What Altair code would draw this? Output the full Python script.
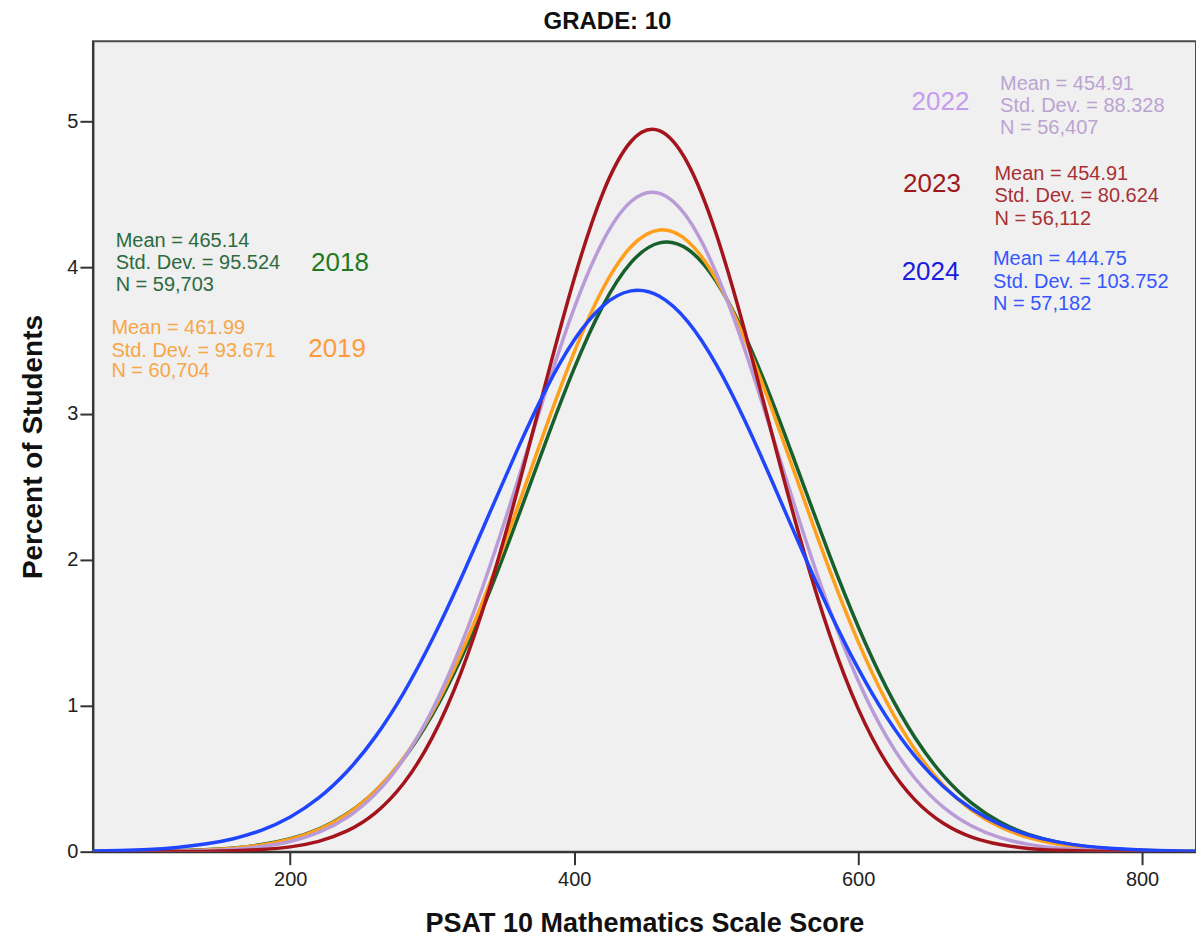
import altair as alt
import pandas as pd

# Scale score grid and percent of students
score = [60, 80, 100, 120, 140, 160, 180, 200, 220, 240, 260, 280, 300, 320, 340,
         360, 380, 400, 420, 440, 460, 480, 500, 520, 540, 560, 580, 600, 620, 640,
         660, 680, 700, 720, 740, 760, 780, 800, 820, 840]

pct_2018 = [0.001, 0.001, 0.003, 0.006, 0.013, 0.025, 0.049, 0.089, 0.155, 0.260,
            0.416, 0.638, 0.937, 1.317, 1.771, 2.279, 2.807, 3.310, 3.735, 4.034,
            4.170, 4.126, 3.907, 3.541, 3.072, 2.551, 2.027, 1.542, 1.122, 0.782,
            0.521, 0.333, 0.203, 0.119, 0.067, 0.036, 0.018, 0.009, 0.004, 0.002]
pct_2019 = [0.000, 0.001, 0.002, 0.005, 0.012, 0.024, 0.046, 0.085, 0.151, 0.257,
            0.416, 0.645, 0.955, 1.350, 1.824, 2.355, 2.904, 3.421, 3.852, 4.143,
            4.258, 4.181, 3.922, 3.516, 3.011, 2.464, 1.926, 1.439, 1.027, 0.700,
            0.456, 0.284, 0.169, 0.096, 0.052, 0.027, 0.013, 0.006, 0.003, 0.001]
pct_2022 = [0.000, 0.001, 0.001, 0.003, 0.008, 0.017, 0.036, 0.070, 0.132, 0.234,
            0.396, 0.636, 0.970, 1.407, 1.938, 2.536, 3.152, 3.723, 4.177, 4.453,
            4.509, 4.338, 3.965, 3.443, 2.840, 2.226, 1.657, 1.172, 0.788, 0.503,
            0.305, 0.176, 0.096, 0.050, 0.025, 0.012, 0.005, 0.002, 0.001, 0.000]
pct_2023 = [0.000, 0.000, 0.000, 0.001, 0.002, 0.006, 0.015, 0.033, 0.071, 0.142,
            0.266, 0.470, 0.781, 1.220, 1.792, 2.475, 3.214, 3.924, 4.506, 4.864,
            4.938, 4.714, 4.232, 3.572, 2.835, 2.116, 1.485, 0.980, 0.608, 0.355,
            0.195, 0.100, 0.049, 0.022, 0.010, 0.004, 0.001, 0.001, 0.000, 0.000]
pct_2024 = [0.004, 0.008, 0.015, 0.029, 0.052, 0.089, 0.148, 0.238, 0.368, 0.549,
            0.788, 1.090, 1.453, 1.866, 2.310, 2.754, 3.165, 3.504, 3.737, 3.841,
            3.804, 3.630, 3.337, 2.956, 2.523, 2.075, 1.644, 1.255, 0.923, 0.654,
            0.447, 0.294, 0.187, 0.114, 0.067, 0.038, 0.021, 0.011, 0.006, 0.003]

years = ["2018", "2019", "2022", "2023", "2024"]
series = [pct_2018, pct_2019, pct_2022, pct_2023, pct_2024]
line_colors = ["#17602c", "#ff9f1a", "#b99bd8", "#a3141c", "#1f45ff"]
text_colors = ["#2c6a3f", "#f7a648", "#bca3d3", "#a93034", "#3557ff"]
year_colors = ["#1f7a1f", "#ff9a3c", "#c59cf0", "#a0181c", "#1a1ae0"]

stat_lines = [
    ["Mean = 465.14", "Std. Dev. = 95.524", "N = 59,703"],
    ["Mean = 461.99", "Std. Dev. = 93.671", "N = 60,704"],
    ["Mean = 454.91", "Std. Dev. = 88.328", "N = 56,407"],
    ["Mean = 454.91", "Std. Dev. = 80.624", "N = 56,112"],
    ["Mean = 444.75", "Std. Dev. = 103.752", "N = 57,182"],
]
# annotation anchors in data units (score, percent)
stat_x = [77, 74, 700, 696, 695]
stat_y = [[4.18, 4.03, 3.88], [3.59, 3.43, 3.29], [5.26, 5.11, 4.96],
          [4.64, 4.49, 4.33], [4.06, 3.90, 3.75]]
year_x = [235, 233, 658, 652, 651]
year_y = [4.03, 3.445, 5.135, 4.574, 3.972]

rows = []
for yr, vals in zip(years, series):
    for s, v in zip(score, vals):
        rows.append({"year": yr, "score": s, "pct": v})
curves = pd.DataFrame(rows)

stat_rows = []
for i, yr in enumerate(years):
    for j, t in enumerate(stat_lines[i]):
        stat_rows.append({"x": stat_x[i], "y": stat_y[i][j], "text": t, "color": text_colors[i]})
stats = pd.DataFrame(stat_rows)
labels = pd.DataFrame({"x": year_x, "y": year_y, "text": years, "color": year_colors})

xscale = alt.Scale(domain=[61, 838], nice=False, zero=False)
yscale = alt.Scale(domain=[0, 5.55], nice=False)

xaxis = alt.Axis(values=[200, 400, 600, 800], title="PSAT 10 Mathematics Scale Score",
                 titlePadding=21, labelPadding=5, format="d", titleFontSize=27)
yaxis = alt.Axis(values=[0, 1, 2, 3, 4, 5], title="Percent of Students",
                 titlePadding=19, labelPadding=2, format="d")

layers = []
for i, yr in enumerate(years):
    layers.append(
        alt.Chart(curves[curves["year"] == yr])
        .mark_line(strokeWidth=3.5, interpolate="natural", clip=True, color=line_colors[i])
        .encode(x=alt.X("score:Q", scale=xscale, axis=xaxis),
                y=alt.Y("pct:Q", scale=yscale, axis=yaxis))
    )

stat_text = alt.Chart(stats).mark_text(
    align="left", baseline="middle", font="Liberation Sans", fontSize=20
).encode(x=alt.X("x:Q", scale=xscale), y=alt.Y("y:Q", scale=yscale),
         text="text:N", color=alt.Color("color:N", scale=None))

year_text = alt.Chart(labels).mark_text(
    align="center", baseline="middle", font="Liberation Sans", fontSize=26
).encode(x=alt.X("x:Q", scale=xscale), y=alt.Y("y:Q", scale=yscale),
         text="text:N", color=alt.Color("color:N", scale=None))

chart = alt.layer(*layers, stat_text, year_text).properties(
    width=1104, height=811,
    autosize=alt.AutoSizeParams(type="none"),
    padding={"left": 85, "top": 33, "right": 0, "bottom": 86},
    title=alt.TitleParams("GRADE: 10", font="Liberation Sans", fontSize=24,
                          fontWeight="bold", color="#111111", anchor="middle",
                          dx=-37, offset=7),
).configure_view(
    fill="#f0f0f0", stroke="#4a4a4a", strokeWidth=2
).configure_axis(
    grid=False, domainColor="#333333", domainWidth=2, tickColor="#333333",
    tickWidth=2, tickSize=13, labelFont="Liberation Sans", labelFontSize=20,
    labelColor="#222222", titleFont="Liberation Sans", titleFontSize=28,
    titleFontWeight="bold", titleColor="#111111"
)

chart.save("out.html", embed_options={"renderer": "svg", "actions": False})
